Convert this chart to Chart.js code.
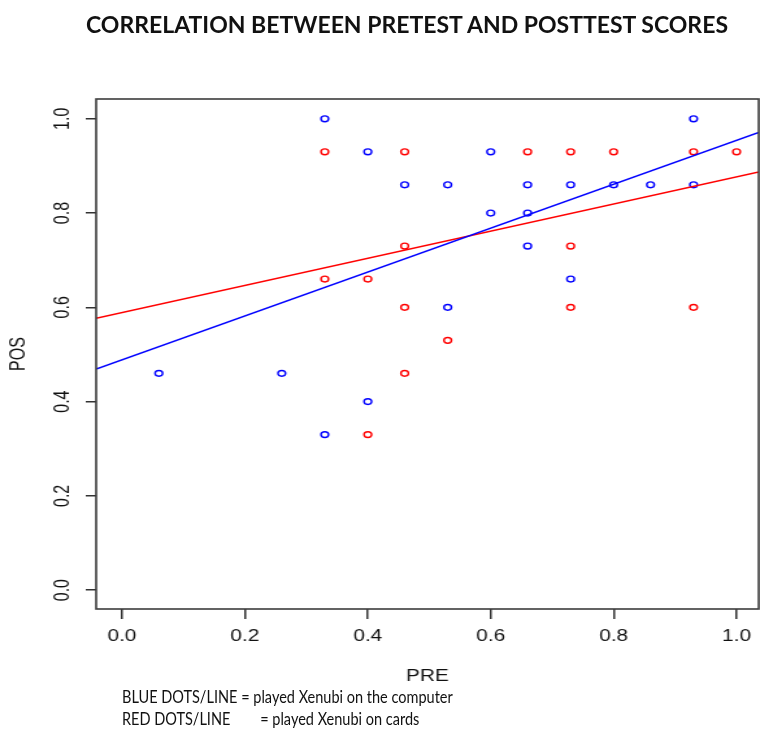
<!DOCTYPE html>
<html>
<head>
<meta charset="utf-8">
<script src="https://cdn.jsdelivr.net/npm/chart.js@4.4.1/dist/chart.umd.min.js"></script>
<style>
  html, body { margin: 0; padding: 0; background: #fff; }
  #wrap { position: relative; width: 760px; height: 733px; overflow: hidden; background: #fff; }
  #c { position: absolute; left: 0; top: 0; transform-origin: 0 0; transform: scaleX(1.29915); }
  #title { position: absolute; left: 0; top: 10px; width: 814px; text-align: center;
           font-family: "Lato", "Open Sans", sans-serif; font-weight: 700; font-size: 23px;
           line-height: 28px; color: #111; white-space: nowrap; }
  #notes { position: absolute; left: 122px; top: 686px; font-family: "Lato", "Open Sans", sans-serif;
           font-size: 16.5px; line-height: 22px; color: #111; white-space: pre;
           transform-origin: 0 0; transform: scaleX(0.88); }
</style>
</head>
<body>
<div id="wrap">
  <canvas id="c" width="585" height="733"></canvas>
  <div id="title">CORRELATION BETWEEN PRETEST AND POSTTEST SCORES</div>
  <div id="notes">BLUE DOTS/LINE = played Xenubi on the computer
RED DOTS/LINE        = played Xenubi on cards</div>
</div>
<script>
// ---- data ----
const bluePre = [0.06, 0.26, 0.33, 0.33, 0.40, 0.40, 0.46, 0.53, 0.53, 0.60, 0.60, 0.66, 0.66, 0.66, 0.73, 0.73, 0.80, 0.86, 0.93, 0.93];
const bluePos = [0.46, 0.46, 1.00, 0.33, 0.93, 0.40, 0.86, 0.86, 0.60, 0.93, 0.80, 0.86, 0.80, 0.73, 0.86, 0.66, 0.86, 0.86, 1.00, 0.86];

const redPre = [0.33, 0.33, 0.40, 0.40, 0.46, 0.46, 0.46, 0.46, 0.53, 0.66, 0.73, 0.73, 0.73, 0.80, 0.93, 0.93, 1.00];
const redPos = [0.93, 0.66, 0.66, 0.33, 0.93, 0.73, 0.60, 0.46, 0.53, 0.93, 0.93, 0.73, 0.60, 0.93, 0.93, 0.60, 0.93];

// fitted lines: endpoints at the plot edges (PRE, POS)
const blueLinePre = [-0.042, 1.036];
const blueLinePos = [0.469, 0.971];
const redLinePre = [-0.042, 1.036];
const redLinePos = [0.577, 0.887];

const preTicks = [0, 0.2, 0.4, 0.6, 0.8, 1.0];
const preTickLabels = ['0.0', '0.2', '0.4', '0.6', '0.8', '1.0'];
const posTicks = [0, 0.2, 0.4, 0.6, 0.8, 1.0];
const posTickLabels = ['0.0', '0.2', '0.4', '0.6', '0.8', '1.0'];

const BLUE = '#0000ff';
const RED = '#ff0000';
const axisFont = { family: '"Liberation Sans", Arial, sans-serif', size: 16 };

const pts = (xs, ys) => xs.map((x, i) => ({ x: x, y: ys[i] }));

const boxPlugin = {
  id: 'plotBox',
  afterDatasetsDraw(chart) {
    const { ctx, chartArea: a } = chart;
    ctx.save();
    ctx.strokeStyle = '#3c3c3c';
    ctx.lineWidth = 1.6;
    ctx.strokeRect(a.left, a.top, a.right - a.left, a.bottom - a.top);
    ctx.restore();
  }
};

new Chart(document.getElementById('c'), {
  type: 'scatter',
  data: {
    datasets: [
      { type: 'line', label: 'computer fit', data: pts(blueLinePre, blueLinePos),
        borderColor: BLUE, borderWidth: 1.5, pointRadius: 0, showLine: true, fill: false },
      { type: 'line', label: 'cards fit', data: pts(redLinePre, redLinePos),
        borderColor: RED, borderWidth: 1.5, pointRadius: 0, showLine: true, fill: false },
      { label: 'computer', data: pts(bluePre, bluePos), pointStyle: 'circle', pointRadius: 2.9,
        pointBorderWidth: 1.4, pointBorderColor: BLUE, pointBackgroundColor: 'rgba(0,0,0,0)' },
      { label: 'cards', data: pts(redPre, redPos), pointStyle: 'circle', pointRadius: 2.9,
        pointBorderWidth: 1.4, pointBorderColor: RED, pointBackgroundColor: 'rgba(0,0,0,0)' }
    ]
  },
  options: {
    responsive: false,
    animation: false,
    devicePixelRatio: 1,
    layout: { autoPadding: false, padding: { left: 0, right: 1, top: 99, bottom: 47 } },
    plugins: { legend: { display: false }, tooltip: { enabled: false }, title: { display: false } },
    scales: {
      x: {
        type: 'linear', min: -0.042, max: 1.036,
        afterBuildTicks: s => { s.ticks = preTicks.map(v => ({ value: v })); },
        afterFit: s => { s.height = 77; s.paddingLeft = 0; s.paddingRight = 0; },
        ticks: { callback: (v, i) => preTickLabels[i], font: axisFont, color: '#111', padding: 8,
                 autoSkip: false, maxRotation: 0, minRotation: 0 },
        grid: { display: true, drawOnChartArea: false, drawTicks: true, tickLength: 10,
                tickColor: '#333', tickWidth: 1.5, lineWidth: 1.5, color: '#333' },
        border: { display: false },
        title: { display: true, text: 'PRE', font: axisFont, color: '#111', padding: { top: 0, bottom: 0 } }
      },
      y: {
        type: 'linear', min: -0.04, max: 1.042,
        afterBuildTicks: s => { s.ticks = posTicks.map(v => ({ value: v })); },
        afterFit: s => { s.width = 74; s.paddingTop = 0; s.paddingBottom = 0; },
        ticks: { callback: (v, i) => posTickLabels[i], font: axisFont, color: '#111', padding: 6,
                 autoSkip: false, minRotation: 90, maxRotation: 90, crossAlign: 'center' },
        grid: { display: true, drawOnChartArea: false, drawTicks: true, tickLength: 8,
                tickColor: '#333', tickWidth: 1.5, lineWidth: 1.5, color: '#333' },
        border: { display: false },
        title: { display: true, text: 'POS', font: axisFont, color: '#111', padding: { top: 5, bottom: 0 } }
      }
    }
  },
  plugins: [boxPlugin]
});
</script>
</body>
</html>
